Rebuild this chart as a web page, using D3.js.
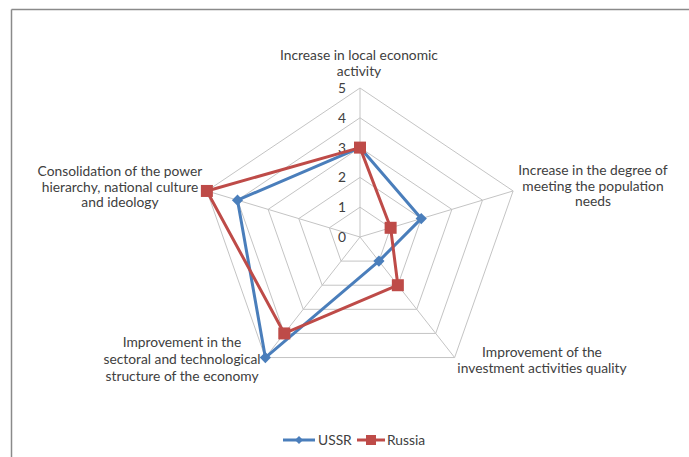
<!DOCTYPE html>
<html>
<head>
<meta charset="utf-8">
<script src="https://cdn.jsdelivr.net/npm/d3@7"></script>
<style>
  html, body { margin: 0; padding: 0; background: #fff; }
  svg { display: block; }
  text { font-family: Lato, "Open Sans", sans-serif; fill: #404040; }
</style>
</head>
<body>
<svg id="chart" width="689" height="457"></svg>
<script>
// Radar chart: USSR vs Russia across five development directions
const categories = [
  ["Increase in local economic", "activity"],
  ["Increase in the degree of", "meeting the population", "needs"],
  ["Improvement of the", "investment activities quality"],
  ["Improvement in the", "sectoral and technological", "structure of the economy"],
  ["Consolidation of the power", "hierarchy, national culture", "and ideology"]
];
const ussrValues = [3, 2, 1, 5, 4];
const russiaValues = [3, 1, 2, 4, 5];
const tickValues = [0, 1, 2, 3, 4, 5];
const seriesNames = ["USSR", "Russia"];

const svg = d3.select("#chart");
const cx = 360, cy = 237;
const rx = d3.scaleLinear().domain([0, 5]).range([0, 161]);
const ry = d3.scaleLinear().domain([0, 5]).range([0, 149]);
const angle = d3.scaleLinear().domain([0, categories.length]).range([0, 2 * Math.PI]);
const fontSize = 13.8;

function pt(i, v) {
  const a = angle(i);
  return [cx + rx(v) * Math.sin(a), cy - ry(v) * Math.cos(a)];
}

// outer frame (top and left edges)
svg.append("line").attr("x1", 11.5).attr("y1", 9.5).attr("x2", 689).attr("y2", 9.5)
  .attr("stroke", "#8a8a8a").attr("stroke-width", 1.5);
svg.append("line").attr("x1", 11.5).attr("y1", 9.5).attr("x2", 11.5).attr("y2", 457)
  .attr("stroke", "#8a8a8a").attr("stroke-width", 1.5);

// grid pentagons
const grid = svg.append("g");
tickValues.filter(t => t > 0).forEach(t => {
  const pts = categories.map((c, i) => pt(i, t));
  grid.append("polygon").attr("points", pts.map(p => p.join(",")).join(" "))
    .attr("fill", "none").attr("stroke", "#c4c4c4").attr("stroke-width", 1);
});
// spokes
categories.forEach((c, i) => {
  const [x, y] = pt(i, 5);
  grid.append("line").attr("x1", cx).attr("y1", cy).attr("x2", x).attr("y2", y)
    .attr("stroke", "#c4c4c4").attr("stroke-width", 1);
});

// tick labels
tickValues.forEach(t => {
  svg.append("text").attr("x", cx - 18).attr("y", cy - ry(t) + 5)
    .attr("text-anchor", "middle").attr("font-size", fontSize).text(t);
});

// category labels
const labelPos = [
  { x: 359, y: 60, lh: 16 },
  { x: 593, y: 175, lh: 15.5 },
  { x: 542, y: 357, lh: 16 },
  { x: 182, y: 347, lh: 17 },
  { x: 120, y: 176, lh: 15.5 }
];
categories.forEach((lines, i) => {
  const t = svg.append("text").attr("text-anchor", "middle").attr("font-size", fontSize);
  lines.forEach((ln, k) => {
    t.append("tspan").attr("x", labelPos[i].x).attr("y", labelPos[i].y + k * labelPos[i].lh).text(ln);
  });
});

// series
const colors = ["#4a7ebb", "#be4b48"];
const line = d3.line().curve(d3.curveLinearClosed);
[ussrValues, russiaValues].forEach((vals, s) => {
  const pts = vals.map((v, i) => pt(i, v));
  svg.append("path").attr("d", line(pts)).attr("fill", "none")
    .attr("stroke", colors[s]).attr("stroke-width", 3).attr("stroke-linejoin", "round");
  pts.forEach(p => {
    if (s === 0) {
      svg.append("path").attr("d", d3.symbol(d3.symbolDiamond2, 80)())
        .attr("transform", `translate(${p[0]},${p[1]})`).attr("fill", colors[s]);
    } else {
      svg.append("rect").attr("x", p[0] - 6).attr("y", p[1] - 6)
        .attr("width", 12).attr("height", 12).attr("fill", colors[s]);
    }
  });
});

// legend
const legend = [
  { x1: 283, x2: 315, tx: 318 },
  { x1: 357, x2: 385, tx: 387 }
];
seriesNames.forEach((name, s) => {
  const L = legend[s];
  const ly = 440;
  svg.append("line").attr("x1", L.x1).attr("x2", L.x2).attr("y1", ly).attr("y2", ly)
    .attr("stroke", colors[s]).attr("stroke-width", 3);
  const mx = (L.x1 + L.x2) / 2;
  if (s === 0) {
    svg.append("path").attr("d", d3.symbol(d3.symbolDiamond2, 40)())
      .attr("transform", `translate(${mx},${ly})`).attr("fill", colors[s]);
  } else {
    svg.append("rect").attr("x", mx - 5).attr("y", ly - 5).attr("width", 10).attr("height", 10)
      .attr("fill", colors[s]);
  }
  svg.append("text").attr("x", L.tx).attr("y", ly + 5).attr("font-size", fontSize).text(name);
});
</script>
</body>
</html>
